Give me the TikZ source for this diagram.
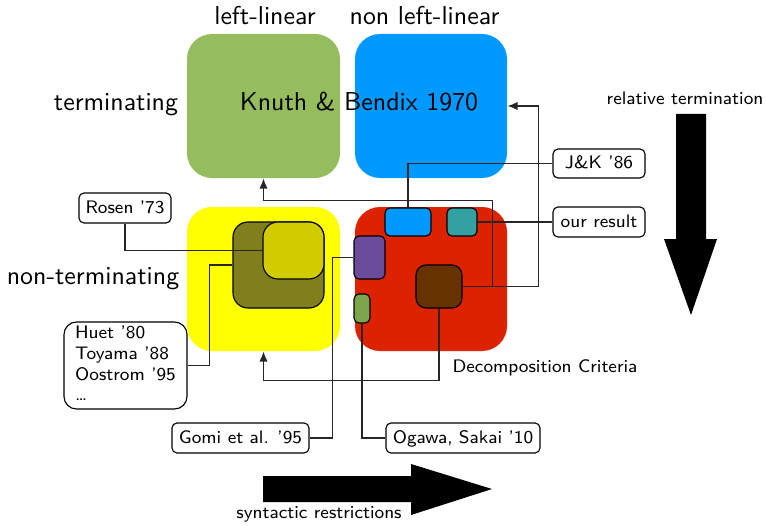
\documentclass[tikz,border=0pt]{standalone}
\usetikzlibrary{fit,calc,arrows.meta}
\definecolor{cgreen}{HTML}{95BD5E}
\definecolor{cblue}{HTML}{0099FF}
\definecolor{cyellow}{HTML}{FFFF00}
\definecolor{cred}{HTML}{DD2200}
\definecolor{colive}{HTML}{807F1C}
\definecolor{cinyel}{HTML}{D0CC00}
\definecolor{cteal}{HTML}{33A1A1}
\definecolor{cpurple}{HTML}{6A4C9A}
\definecolor{csgreen}{HTML}{7BA64C}
\definecolor{cbrown}{HTML}{663300}
\begin{document}
\begin{tikzpicture}[x=0.4pt,y=-0.4pt,
  every node/.style={font=\sffamily\fontsize{10.35}{12}\selectfont},
  bigbox/.style={inner sep=0pt, rounded corners=10pt},
  inbox/.style={draw=black, line width=0.45pt, inner sep=0pt, rounded corners=2pt},
  lbl/.style={draw=black, fill=white, line width=0.45pt, inner sep=0pt, rounded corners=2pt, font=\sffamily\fontsize{7.25}{8.3}\selectfont},
  oneline/.style={lbl, text height=5.4pt, text depth=1.2pt, minimum height=12pt},
  txt/.style={inner sep=0pt},
  smalltxt/.style={inner sep=0pt, font=\sffamily\fontsize{7.25}{8.3}\selectfont},
  conn/.style={draw=black!85, line width=0.5pt},
  arr/.style={conn, -{Latex[length=4pt,width=3.3pt]}}
]
\useasboundingbox (0,0) rectangle (766,526);
% big boxes
\node[bigbox, fill=cgreen, fit={(187,34) (340,178)}] (G) {};
\node[bigbox, fill=cblue, fit={(355,34) (507,178)}] (B) {};
\node[bigbox, fill=cyellow, fit={(187,207) (340,351)}] (Y) {};
\node[bigbox, fill=cred, fit={(355,207) (507,351)}] (R) {};
% inner boxes
\node[inbox, fill=colive, rounded corners=6pt, fit={(233,222) (324,308)}] (O) {};
\node[inbox, fill=cinyel, rounded corners=6pt, fit={(263,222) (324,279)}] (IY) {};
\node[inbox, fill=cblue, fit={(385,208) (431,236)}] (SB) {};
\node[inbox, fill=cteal, fit={(447,208) (477,236)}] (T) {};
\node[inbox, fill=cpurple, fit={(354,236) (385,279)}] (P) {};
\node[inbox, fill=csgreen, fit={(354,294) (370,323)}] (SG) {};
\node[inbox, fill=cbrown, rounded corners=4pt, fit={(416,265) (462,308)}] (BR) {};
% label boxes
\node[oneline, minimum width=36.8pt, minimum height=11.6pt] (JK) at (599,163.5) {J\&K '86};
\node[oneline, minimum width=36.8pt] (OR) at (599,222) {our result};
\node[oneline, minimum width=36.8pt] (RO) at (125,208) {Rosen '73};
\node[lbl, rounded corners=5pt, minimum width=49.2pt, minimum height=34.8pt] (HU) at (125.5,365.5) {\begin{tabular}{@{}l@{}}Huet '80\\Toyama '88\\Oostrom '95\\\dots\end{tabular}};
\node[oneline, minimum width=54.8pt] (GO) at (240.5,438) {Gomi et al. '95};
\node[oneline, minimum width=61.6pt] (OG) at (463,438) {Ogawa, Sakai '10};
% connectors
\draw[conn] (RO.south) |- (IY.west);
\draw[conn] (HU.east) -- ++(22,0) |- (O.west);
\draw[conn] (GO.east) -- ++(23,0) |- (P.west);
\draw[conn] (OG.west) -| (SG.south);
\draw[conn] (JK.west) -| (SB.north);
\draw[conn] (OR.west) -- (T.east);
\draw[arr] (BR.east) -- ++(76,0) |- (B.east);
\draw[arr] (BR.east) -- ++(30,0) |- ($(G.south)+(0,22)$) -- (G.south);
\draw[arr] (BR.south) |- ($(Y.south)+(0,29)$) -- (Y.south);
% big arrows
\fill (676,114) -- (706,114) -- (706,239) -- (717,239) -- (691,315) -- (664,239) -- (676,239) -- cycle;
\fill (263,476) -- (411,476) -- (411,464) -- (492,489) -- (411,515) -- (411,502) -- (263,502) -- cycle;
% texts
\node[txt, anchor=base] (ll) at (265,25) {left-linear};
\node[txt, anchor=base] (nll) at (424.5,25) {non left-linear};
\node[txt, anchor=base] (term) at (116,110) {terminating};
\node[txt, anchor=base] (kb) at (359,110) {Knuth \& Bendix 1970};
\node[txt, anchor=base] (nterm) at (93,284) {non-terminating};
\node[smalltxt, anchor=base] (rt) at (685,105) {relative termination};
\node[smalltxt, anchor=base west] (dc) at (452,372) {Decomposition Criteria};
\node[smalltxt, anchor=base] (sr) at (319,518) {syntactic restrictions};
\end{tikzpicture}
\end{document}
